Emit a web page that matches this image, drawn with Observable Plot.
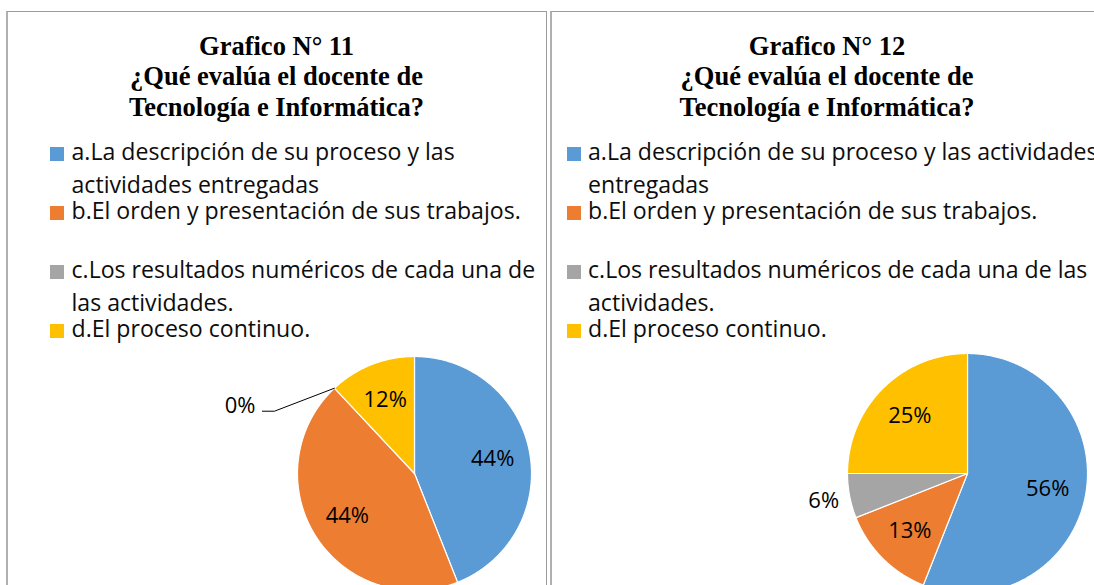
<!DOCTYPE html>
<html>
<head>
<meta charset="utf-8">
<script src="https://cdn.jsdelivr.net/npm/d3@7"></script>
<script src="https://cdn.jsdelivr.net/npm/@observablehq/plot@0.6"></script>
<style>
  html, body { margin: 0; padding: 0; background: #fff; width: 1094px; height: 585px; overflow: hidden; }
  #page { position: relative; width: 1094px; height: 585px; overflow: hidden; background: #fff; }
  .panel { position: absolute; top: 11px; height: 640px; box-sizing: border-box;
           border-top: 1px solid #9c9c9c; border-left: 2px solid #b0b0b0; border-right: 1px solid #9c9c9c; }
  .tline { position: absolute; text-align: center; white-space: nowrap; color: #000;
           font-family: "Liberation Serif", "Times New Roman", serif; font-weight: bold; }
  .lline { position: absolute; white-space: nowrap; color: #0d0d0d; font-family: "Open Sans", sans-serif; }
  .key { position: absolute; width: 14px; height: 14px; }
  .chart { position: absolute; overflow: visible; }
  .chart svg { overflow: visible; max-width: none !important; display: block; }
</style>
</head>
<body>
<div id="page"></div>
<script>
// ---------------- data ----------------
const categories = [
  "a.La descripción de su proceso y las actividades entregadas",
  "b.El orden y presentación de sus trabajos.",
  "c.Los resultados numéricos de cada una de las actividades.",
  "d.El proceso continuo."
];
const colors = ["#5B9BD5", "#ED7D31", "#A5A5A5", "#FFC000"];

const titles11 = ["Grafico N° 11", "¿Qué evalúa el docente de", "Tecnología e Informática?"];
const titles12 = ["Grafico N° 12", "¿Qué evalúa el docente de", "Tecnología e Informática?"];

const values11 = [44, 44, 0, 12];
const values12 = [56, 13, 6, 25];

const legendLines11 = [
  ["a.La descripción de su proceso y las", "actividades entregadas"],
  ["b.El orden y presentación de sus trabajos."],
  ["c.Los resultados numéricos de cada una de", "las actividades."],
  ["d.El proceso continuo."]
];
const legendLines12 = [
  ["a.La descripción de su proceso y las actividades", "entregadas"],
  ["b.El orden y presentación de sus trabajos."],
  ["c.Los resultados numéricos de cada una de las", "actividades."],
  ["d.El proceso continuo."]
];

// ---------------- layout / style options ----------------
const panels = [
  {titles: titles11, values: values11, legend: legendLines11,
   left: 6, width: 541, keyX: 50, textX: 71.5, pieX: 414, pieY: 473, R: 117, callout: [-79, 18]},
  {titles: titles12, values: values12, legend: legendLines12,
   left: 550, width: 554, keyX: 566.5, textX: 588, pieX: 967, pieY: 473, R: 120, callout: null}
];
const titleFont = 26.5, titleBaselines = [55, 85.5, 116];
const legendFont = 23.1, entryBaselines = [161, 220, 279, 338], wrapGap = 33;
const labelFont = 22;
const chartTop = 335, chartH = 260;

const page = document.getElementById("page");

function line(cls, txt, left, baseline, size, asc, desc, width) {
  const d = document.createElement("div");
  d.className = cls;
  d.textContent = txt;
  d.style.fontSize = size + "px";
  d.style.lineHeight = size + "px";
  d.style.top = (baseline - size * (1 + asc - desc) / 2) + "px";
  d.style.left = left + "px";
  if (width != null) d.style.width = width + "px";
  page.appendChild(d);
  return d;
}

panels.forEach(p => {
  const box = document.createElement("div");
  box.className = "panel";
  box.style.left = p.left + "px";
  box.style.width = p.width + "px";
  page.appendChild(box);

  // title
  p.titles.forEach((t, i) => line("tline", t, p.left, titleBaselines[i], titleFont, 0.891, 0.216, p.width));

  // legend
  p.legend.forEach((lines, i) => {
    const k = document.createElement("div");
    k.className = "key";
    k.style.left = p.keyX + "px";
    k.style.top = (entryBaselines[i] - 14) + "px";
    k.style.background = colors[i];
    page.appendChild(k);
    lines.forEach((t, j) => line("lline", t, p.textX, entryBaselines[i] + j * wrapGap, legendFont, 1.069, 0.293));
  });

  // pie geometry from the values
  const total = d3.sum(p.values);
  let acc = 0;
  const slices = p.values.map((v, i) => {
    const a0 = acc / total * 2 * Math.PI; acc += v;
    const a1 = acc / total * 2 * Math.PI;
    return {cat: categories[i], v, share: v / total, a0, a1, mid: (a0 + a1) / 2};
  });
  const polys = [];
  slices.filter(s => s.v > 0).forEach(s => {
    polys.push({cat: s.cat, x: 0, y: 0});
    const n = Math.max(2, Math.ceil((s.a1 - s.a0) / (Math.PI / 360)));
    for (let k = 0; k <= n; k++) {
      const a = s.a0 + (s.a1 - s.a0) * k / n;
      polys.push({cat: s.cat, x: Math.sin(a), y: Math.cos(a)});
    }
    polys.push({cat: s.cat, x: 0, y: 0});
  });

  const labels = [], leaders = [];
  slices.forEach(s => {
    const txt = Math.round(s.share * 100) + "%";
    if (s.v === 0 && p.callout) {
      const ex = Math.sin(s.a0), ey = Math.cos(s.a0);
      const lx = ex + p.callout[0] / p.R, ly = ey - p.callout[1] / p.R;
      labels.push({x: lx, y: ly, text: txt, anchor: "end"});
      leaders.push({x: ex, y: ey}, {x: lx + 19 / p.R, y: ly - 5 / p.R}, {x: lx + 7 / p.R, y: ly - 5 / p.R});
    } else if (s.share < 0.1) {
      labels.push({x: 1.22 * Math.sin(s.mid), y: 1.22 * Math.cos(s.mid), text: txt, anchor: "middle"});
    } else {
      labels.push({x: 0.68 * Math.sin(s.mid), y: 0.68 * Math.cos(s.mid), text: txt, anchor: "middle"});
    }
  });

  const cx = p.pieX - p.left, cy = p.pieY - chartTop, W = p.width, H = chartH, R = p.R;
  const chart = Plot.plot({
    width: W, height: H, margin: 0,
    x: {domain: [-cx / R, (W - cx) / R], axis: null},
    y: {domain: [-(H - cy) / R, cy / R], axis: null},
    color: {domain: categories, range: colors},
    style: {background: "transparent", overflow: "visible", maxWidth: "none"},
    marks: [
      Plot.line(polys, {x: "x", y: "y", z: "cat", fill: "cat", stroke: "white", strokeWidth: 1.2, strokeLinejoin: "round", curve: "linear"}),
      Plot.line(leaders, {x: "x", y: "y", stroke: "#000", strokeWidth: 1}),
      Plot.text(labels.filter(d => d.anchor === "middle"), {x: "x", y: "y", text: "text", fontSize: labelFont, fontFamily: "Open Sans, sans-serif", fill: "#000", textAnchor: "middle"}),
      Plot.text(labels.filter(d => d.anchor === "end"), {x: "x", y: "y", text: "text", fontSize: labelFont, fontFamily: "Open Sans, sans-serif", fill: "#000", textAnchor: "end"})
    ]
  });
  const wrap = document.createElement("div");
  wrap.className = "chart";
  wrap.style.left = p.left + "px";
  wrap.style.top = chartTop + "px";
  wrap.style.width = W + "px";
  wrap.style.height = H + "px";
  wrap.appendChild(chart);
  page.appendChild(wrap);
});
</script>
</body>
</html>
